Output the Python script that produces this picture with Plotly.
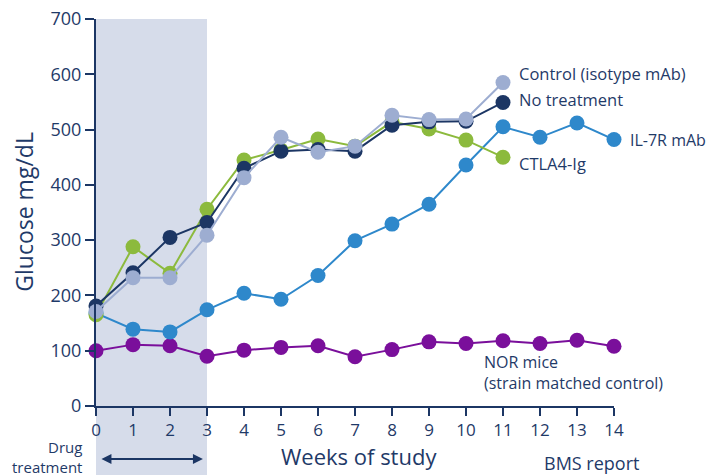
import plotly.graph_objects as go

weeks = list(range(15))
control = [171, 232, 232, 309, 413, 486, 459, 470, 526, 518, 519, 585]
no_treatment = [181, 241, 305, 332, 430, 461, 464, 461, 508, 514, 515, 549]
ctla4 = [165, 288, 240, 356, 445, 463, 483, 470, 514, 501, 481, 450]
il7r = [168, 139, 134, 174, 204, 193, 236, 299, 329, 365, 436, 505, 486, 512, 482]
nor = [100, 111, 109, 90, 101, 106, 109, 89, 102, 116, 113, 118, 113, 119, 108]

NAVY = "#1c3664"
TXT = "#1f3a68"
FONT = "Open Sans"
series = [
    ("NOR mice", nor, "#7a0f9b"),
    ("IL-7R mAb", il7r, "#2e88cb"),
    ("CTLA4-Ig", ctla4, "#8cba3d"),
    ("No treatment", no_treatment, NAVY),
    ("Control (isotype mAb)", control, "#9dadd1"),
]

fig = go.Figure()
for name, vals, col in series:
    fig.add_trace(go.Scatter(
        x=weeks[:len(vals)], y=vals, mode="lines+markers", name=name,
        line=dict(color=col, width=2), marker=dict(color=col, size=15),
        cliponaxis=False, showlegend=False))

fig.add_shape(type="rect", xref="x", yref="paper", x0=0, x1=3, y0=-0.25, y1=1,
              fillcolor="#d6dcea", line=dict(width=0), layer="below")

def txt(size):
    return dict(family=FONT, size=size, color=TXT)

for y, t in [(602, "Control (isotype mAb)"), (555, "No treatment"), (439, "CTLA4-Ig")]:
    fig.add_annotation(x=11.37, y=y, text=t, showarrow=False, xanchor="left",
                       yanchor="middle", font=txt(16.5))
fig.add_annotation(xref="paper", yref="y", x=1.027, y=481, text="IL-7R mAb", showarrow=False,
                   xanchor="left", yanchor="middle", font=txt(16))
fig.add_annotation(x=10.42, y=61, text="NOR mice<br>(strain matched control)", showarrow=False,
                   xanchor="left", yanchor="middle", align="left", font=txt(16))
fig.add_annotation(xref="paper", yref="paper", x=-0.023, y=-0.132, text="Drug<br>treatment",
                   showarrow=False, xanchor="right", yanchor="middle", align="right",
                   font=txt(15))
fig.add_annotation(xref="x", yref="paper", x=2.89, y=-0.137, ax=-103, ay=0,
                   text="", showarrow=True, arrowhead=2,
                   arrowside="end+start", arrowsize=1, arrowwidth=2, arrowcolor=NAVY)
fig.add_annotation(xref="x", yref="paper", x=12.05, y=-0.147, text="BMS report",
                   showarrow=False, xanchor="left", yanchor="middle", font=txt(18))
fig.add_annotation(xref="paper", yref="paper", x=0.508, y=-0.129, text="Weeks of study",
                   showarrow=False, xanchor="center", yanchor="middle", font=txt(22))
fig.add_annotation(xref="paper", yref="paper", x=-0.139, y=0.502, text="Glucose mg/dL",
                   textangle=-90, showarrow=False, xanchor="center", yanchor="middle",
                   font=txt(23))

fig.update_layout(
    width=715, height=475, margin=dict(l=88, r=109, t=11, b=77),
    paper_bgcolor="white", plot_bgcolor="rgba(0,0,0,0)",
    font=dict(family=FONT, color=TXT),
    xaxis=dict(range=[0, 14], tickmode="array", tickvals=weeks, showgrid=False,
               zeroline=False, showline=True, linecolor=NAVY, linewidth=2,
               ticks="outside", ticklen=8, tickwidth=2, tickcolor=NAVY,
               tickfont=txt(17), automargin=False, ticklabeloverflow="allow"),
    yaxis=dict(range=[0, 700], dtick=100, showgrid=False, zeroline=False,
               showline=True, linecolor=NAVY, linewidth=2,
               ticks="outside", ticklen=9, tickwidth=2, tickcolor=NAVY,
               tickfont=txt(18), automargin=False, ticklabeloverflow="allow"),
)
fig.write_html("out.html")
